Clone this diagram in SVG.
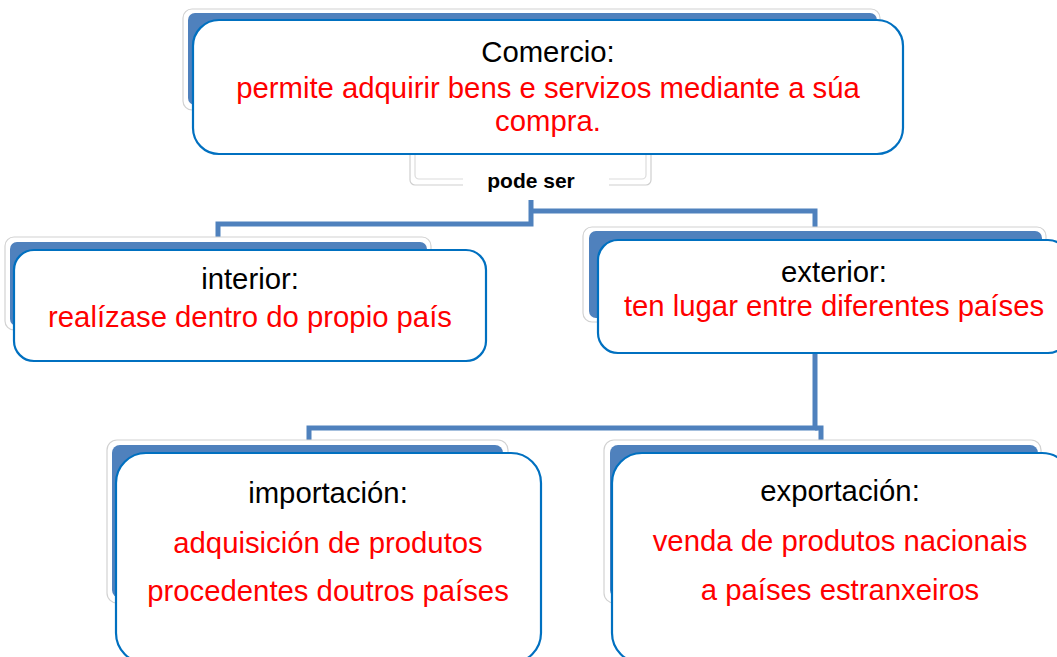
<svg xmlns="http://www.w3.org/2000/svg" width="1057" height="657" viewBox="0 0 1057 657">
<style>
.glow{fill:#fff;stroke:#d2d2d2;stroke-width:1.2}
.back{fill:#4F81BD}
.front{fill:#fff;stroke:#0070C0;stroke-width:2.2}
.t{font-family:"Liberation Sans",Arial,sans-serif;font-size:29.3px;text-anchor:middle}
.k{fill:#000}
.r{fill:#FF0000}
.lbl{font-family:"Liberation Sans",Arial,sans-serif;font-size:21px;font-weight:bold;text-anchor:middle;fill:#000}
.conn{fill:none;stroke:#4F81BD;stroke-width:5}
</style>
<rect width="1057" height="657" fill="#fff"/>
<g id="connectors">
<path class="conn" d="M531,200 V224 H218 V240"/>
<path class="conn" d="M531,211 H815 V229"/>
<path class="conn" d="M815,350 V428 H309 V443"/>
<path class="conn" d="M815,428 H821 V447"/>
</g>
<g id="label-pode-ser">
<rect x="410" y="128" width="241" height="57" rx="5" fill="none" stroke="#cfcfcf" stroke-width="1.2"/>
<rect x="415" y="128" width="231" height="51" rx="4" fill="none" stroke="#dcdcdc" stroke-width="1.2"/>
<rect x="463" y="170" width="146" height="20" fill="#fff"/>
<text class="lbl" x="531" y="188">pode ser</text>
</g>
<g id="node-comercio">
<rect class="glow" x="183" y="9" width="697" height="101" rx="9"/>
<rect class="back" x="188" y="13" width="689" height="92" rx="7"/>
<rect class="front" x="193" y="20" width="710" height="134" rx="26"/>
<text class="t k" x="548" y="62">Comercio:</text>
<text class="t r" x="548" y="98">permite adquirir bens e servizos mediante a súa</text>
<text class="t r" x="548" y="131">compra.</text>
</g>
<g id="node-interior">
<rect class="glow" x="5" y="237" width="426" height="93" rx="9"/>
<rect class="back" x="10" y="242" width="417" height="84" rx="7"/>
<rect class="front" x="14" y="250" width="472" height="111" rx="20"/>
<text class="t k" x="250" y="289">interior:</text>
<text class="t r" x="250" y="327">realízase dentro do propio país</text>
</g>
<g id="node-exterior">
<rect class="glow" x="583" y="227" width="463" height="95" rx="9"/>
<rect class="back" x="589" y="231" width="453" height="87" rx="7"/>
<rect class="front" x="598" y="240" width="470" height="113" rx="20"/>
<text class="t k" x="834" y="282">exterior:</text>
<text class="t r" x="834" y="316">ten lugar entre diferentes países</text>
</g>
<g id="node-importacion">
<rect class="glow" x="107" y="440" width="401" height="163" rx="10"/>
<rect class="back" x="112" y="445" width="391" height="153" rx="8"/>
<rect class="front" x="116" y="453" width="425" height="210" rx="30"/>
<text class="t k" x="328" y="503">importación:</text>
<text class="t r" x="328" y="553">adquisición de produtos</text>
<text class="t r" x="328" y="601">procedentes doutros países</text>
</g>
<g id="node-exportacion">
<rect class="glow" x="604" y="440" width="437" height="163" rx="10"/>
<rect class="back" x="610" y="445" width="428" height="153" rx="8"/>
<rect class="front" x="612" y="453" width="460" height="210" rx="30"/>
<text class="t k" x="840" y="501">exportación:</text>
<text class="t r" x="840" y="551">venda de produtos nacionais</text>
<text class="t r" x="840" y="600">a países estranxeiros</text>
</g>
</svg>
